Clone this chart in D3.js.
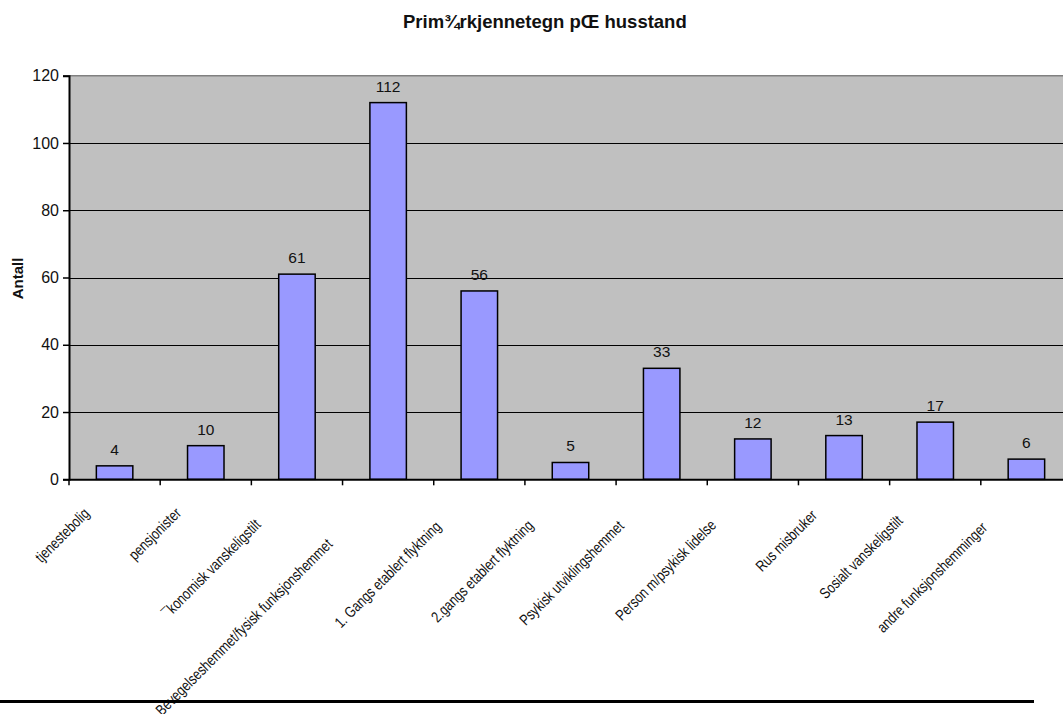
<!DOCTYPE html>
<html>
<head>
<meta charset="utf-8">
<script src="https://cdn.jsdelivr.net/npm/d3@7"></script>
<style>
  html, body { margin: 0; padding: 0; background: #fff; }
  svg { display: block; font-family: "Liberation Sans", Arial, sans-serif; }
</style>
</head>
<body>
<svg id="chart" width="1063" height="714"></svg>
<script>
// Household characteristics: counts per primary category
const titleText = "Prim¾rkjennetegn pŒ husstand";
const yAxisTitle = "Antall";
const categories = [
  "tjenestebolig",
  "pensjonister",
  "¯konomisk vanskeligstilt",
  "Bevegelseshemmet/fysisk funksjonshemmet",
  "1. Gangs etablert flyktning",
  "2.gangs etablert flyktning",
  "Psykisk utviklingshemmet",
  "Person m/psykisk lidelse",
  "Rus misbruker",
  "Sosialt vanskeligstilt",
  "andre funksjonshemminger"
];
const values = [4, 10, 61, 112, 56, 5, 33, 12, 13, 17, 6];
const yTicks = [0, 20, 40, 60, 80, 100, 120];

const svg = d3.select("#chart");
const plot = { left: 69, right: 1072, top: 75.7, bottom: 479.3 };

const y = d3.scaleLinear().domain([0, 120]).range([plot.bottom, plot.top]);
const slot = d3.scaleBand().domain(categories).range([plot.left, plot.right]).padding(0);
const bar = d3.scaleBand().domain(categories).range([plot.left, plot.right])
  .paddingInner(0.6).paddingOuter(0.3);

// Plot area background
svg.append("rect")
  .attr("x", plot.left).attr("y", plot.top)
  .attr("width", plot.right - plot.left).attr("height", plot.bottom - plot.top)
  .attr("fill", "#c0c0c0");

// Top border of the plot area
svg.append("line")
  .attr("x1", plot.left).attr("x2", plot.right)
  .attr("y1", y(120)).attr("y2", y(120))
  .attr("stroke", "#808080").attr("stroke-width", 1.5);

// Horizontal gridlines
svg.append("g").selectAll("line")
  .data(yTicks.filter(t => t > 0 && t < 120))
  .join("line")
  .attr("x1", plot.left).attr("x2", plot.right)
  .attr("y1", d => Math.round(y(d)) + 0.5).attr("y2", d => Math.round(y(d)) + 0.5)
  .attr("stroke", "#000").attr("stroke-width", 1);

// Bars
svg.append("g").selectAll("rect")
  .data(values)
  .join("rect")
  .attr("x", (d, i) => bar(categories[i]))
  .attr("y", d => y(d))
  .attr("width", bar.bandwidth())
  .attr("height", d => y(0) - y(d))
  .attr("fill", "#9999ff")
  .attr("stroke", "#000")
  .attr("stroke-width", 1.5);

// Value labels above bars
svg.append("g").selectAll("text")
  .data(values)
  .join("text")
  .attr("x", (d, i) => bar(categories[i]) + bar.bandwidth() / 2)
  .attr("y", d => y(d) - 11)
  .attr("text-anchor", "middle")
  .attr("font-size", 15.5)
  .attr("fill", "#111")
  .text(d => d);

// Y axis
const yAxis = d3.axisLeft(y).tickValues(yTicks).tickSize(6).tickPadding(4);
const gy = svg.append("g")
  .attr("transform", `translate(${plot.left},0)`)
  .call(yAxis);
gy.select(".domain").attr("stroke", "#000").attr("stroke-width", 2);
gy.selectAll(".tick line").attr("stroke", "#000").attr("stroke-width", 1.5);
gy.selectAll(".tick text")
  .attr("font-size", 16)
  .attr("font-family", "Liberation Sans, Arial, sans-serif")
  .attr("fill", "#111");

// X axis baseline and category ticks
const xAxis = d3.axisBottom(slot).tickSize(0).tickFormat("");
const gx = svg.append("g")
  .attr("transform", `translate(0,${plot.bottom})`)
  .call(xAxis);
gx.select(".domain").attr("stroke", "#000").attr("stroke-width", 2);
gx.selectAll(".tick").remove();
const boundaries = categories.map(c => slot(c)).concat([plot.right]);
gx.selectAll("line.cat-tick")
  .data(boundaries)
  .join("line")
  .attr("class", "cat-tick")
  .attr("x1", d => d).attr("x2", d => d)
  .attr("y1", 0).attr("y2", 6)
  .attr("stroke", "#000").attr("stroke-width", 1.5);

// Rotated category labels (narrowed glyphs, laid out at full width)
const labelG = svg.append("g");
categories.forEach(c => {
  const cx = slot(c) + slot.bandwidth() / 2;
  const t = labelG.append("text")
    .attr("transform", `translate(${cx - 12},${plot.bottom + 23}) rotate(-45)`)
    .attr("font-size", 15.4)
    .attr("fill", "#111")
    .text(c);
  const w = t.node().getComputedTextLength();
  t.attr("x", -w)
    .attr("textLength", w * 0.8)
    .attr("lengthAdjust", "spacingAndGlyphs");
});

// Y axis title
svg.append("text")
  .attr("transform", `translate(23,${(plot.top + plot.bottom) / 2 + 1}) rotate(-90)`)
  .attr("text-anchor", "middle")
  .attr("font-size", 15)
  .attr("font-weight", "bold")
  .attr("fill", "#111")
  .text(yAxisTitle);

// Chart title
svg.append("text")
  .attr("x", 403).attr("y", 28)
  .attr("font-size", 18.5)
  .attr("font-weight", "bold")
  .attr("fill", "#111")
  .text(titleText);

// Rule under the chart
svg.append("line")
  .attr("x1", 0).attr("x2", 1034)
  .attr("y1", 701.5).attr("y2", 701.5)
  .attr("stroke", "#000").attr("stroke-width", 3);
</script>
</body>
</html>
